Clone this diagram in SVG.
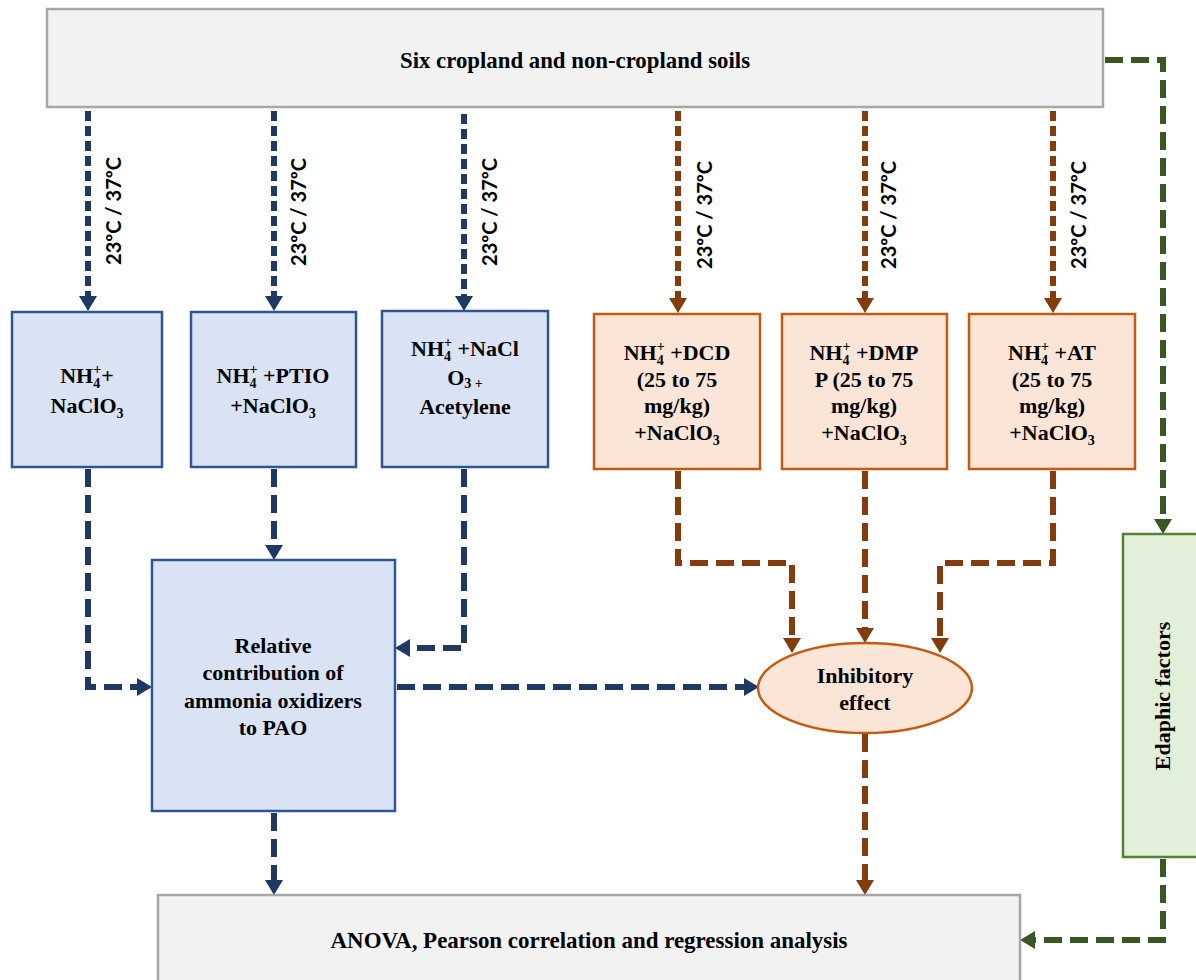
<svg xmlns="http://www.w3.org/2000/svg" width="1196" height="980" viewBox="0 0 1196 980">
<defs>
<style>
.t{font-family:"Liberation Serif","Times New Roman",serif;font-weight:bold;font-size:22px;fill:#000;text-anchor:middle}
.tw{font-size:24px}
.tl{font-family:Lato,"Liberation Sans",sans-serif;font-weight:bold;font-size:20px;fill:#000;text-anchor:middle}
.gray{fill:#f2f2f2;stroke:#a6a6a6;stroke-width:2.5}
.blue{fill:#dae3f3;stroke:#2f5597;stroke-width:2.5}
.brown{fill:#fbe5d6;stroke:#c55a11;stroke-width:2.5}
.green{fill:#e2f0d9;stroke:#548235;stroke-width:2.5}
.cb{fill:none;stroke:#203864;stroke-width:6}
.cr{fill:none;stroke:#843c0c;stroke-width:6}
.cg{fill:none;stroke:#385723;stroke-width:6}
.top{stroke-dasharray:10 5}
.low{stroke-dasharray:18 8}
.s{font-size:14px}
</style>
<marker id="ab" viewBox="0 0 15 18" refX="0" refY="9" markerWidth="15" markerHeight="18" markerUnits="userSpaceOnUse" orient="auto"><path d="M0,0 L15,9 L0,18 Z" fill="#203864"/></marker>
<marker id="ar" viewBox="0 0 15 18" refX="0" refY="9" markerWidth="15" markerHeight="18" markerUnits="userSpaceOnUse" orient="auto"><path d="M0,0 L15,9 L0,18 Z" fill="#843c0c"/></marker>
<marker id="ag" viewBox="0 0 15 18" refX="0" refY="9" markerWidth="15" markerHeight="18" markerUnits="userSpaceOnUse" orient="auto"><path d="M0,0 L15,9 L0,18 Z" fill="#385723"/></marker>
</defs>
<rect width="1196" height="980" fill="#fff"/>

<g id="connectors">
<path class="cb top" d="M88,111 V296" marker-end="url(#ab)"/>
<path class="cb top" d="M274,111 V296" marker-end="url(#ab)"/>
<path class="cb top" d="M464,114 V296" marker-end="url(#ab)"/>
<path class="cr top" d="M678,111 V298" marker-end="url(#ar)"/>
<path class="cr top" d="M865,111 V298" marker-end="url(#ar)"/>
<path class="cr top" d="M1053,111 V298" marker-end="url(#ar)"/>
<path class="cb low" d="M88,469 V687 H137" marker-end="url(#ab)"/>
<path class="cb low" d="M274,469 V545" marker-end="url(#ab)"/>
<path class="cb low" d="M464,469 V648 H410" marker-end="url(#ab)"/>
<path class="cb low" d="M397,687 H744" marker-end="url(#ab)"/>
<path class="cb low" d="M274,813 V880" marker-end="url(#ab)"/>
<path class="cr low" d="M678,471 V563 H792 V638" marker-end="url(#ar)"/>
<path class="cr low" d="M865,471 V628" marker-end="url(#ar)"/>
<path class="cr low" d="M1053,471 V563 H940 V638" marker-end="url(#ar)"/>
<path class="cr low" d="M865,734 V880" marker-end="url(#ar)"/>
<path class="cg low" d="M1105,60 H1163 V519" marker-end="url(#ag)"/>
<path class="cg low" d="M1163,859 V940 H1035" marker-end="url(#ag)"/>
</g>

<g id="soils">
<rect class="gray" x="47" y="9" width="1056" height="98"/>
<text class="t tw" x="575" y="68" textLength="350" lengthAdjust="spacingAndGlyphs">Six cropland and non-cropland soils</text>
</g>

<g id="temp-labels">
<text class="tl" transform="translate(121,211) rotate(-90)">23ºC / 37ºC</text>
<text class="tl" transform="translate(306,212) rotate(-90)">23ºC / 37ºC</text>
<text class="tl" transform="translate(497,212) rotate(-90)">23ºC / 37ºC</text>
<text class="tl" transform="translate(712,215) rotate(-90)">23ºC / 37ºC</text>
<text class="tl" transform="translate(896,215) rotate(-90)">23ºC / 37ºC</text>
<text class="tl" transform="translate(1086,215) rotate(-90)">23ºC / 37ºC</text>
</g>

<g id="box-nh4-naclo3">
<rect class="blue" x="12" y="312" width="150" height="155"/>
<text class="t" x="87" y="383">NH<tspan class="s" dy="5">4</tspan><tspan class="s" dx="-7" dy="-14">+</tspan><tspan dy="9">+</tspan></text>
<text class="t" x="87" y="413">NaClO<tspan class="s" dy="5">3</tspan></text>
</g>

<g id="box-ptio">
<rect class="blue" x="191" y="312" width="165" height="155"/>
<text class="t" x="273" y="383">NH<tspan class="s" dy="5">4</tspan><tspan class="s" dx="-7" dy="-14">+</tspan><tspan dy="9"> +PTIO</tspan></text>
<text class="t" x="273" y="413">+NaClO<tspan class="s" dy="5">3</tspan></text>
</g>

<g id="box-acetylene">
<rect class="blue" x="382" y="311" width="166" height="156"/>
<text class="t" x="465" y="356">NH<tspan class="s" dy="5">4</tspan><tspan class="s" dx="-7" dy="-14">+</tspan><tspan dy="9"> +NaCl</tspan></text>
<text class="t" x="465" y="385">O<tspan class="s" dy="3">3 +</tspan></text>
<text class="t" x="465" y="414">Acetylene</text>
</g>

<g id="box-dcd">
<rect class="brown" x="594" y="314" width="166" height="155"/>
<text class="t" x="677" y="360">NH<tspan class="s" dy="5">4</tspan><tspan class="s" dx="-7" dy="-14">+</tspan><tspan dy="9"> +DCD</tspan></text>
<text class="t" x="677" y="387">(25 to 75</text>
<text class="t" x="677" y="413">mg/kg)</text>
<text class="t" x="677" y="440">+NaClO<tspan class="s" dy="5">3</tspan></text>
</g>

<g id="box-dmpp">
<rect class="brown" x="782" y="314" width="165" height="155"/>
<text class="t" x="864" y="360">NH<tspan class="s" dy="5">4</tspan><tspan class="s" dx="-7" dy="-14">+</tspan><tspan dy="9"> +DMP</tspan></text>
<text class="t" x="864" y="387">P (25 to 75</text>
<text class="t" x="864" y="413">mg/kg)</text>
<text class="t" x="864" y="440">+NaClO<tspan class="s" dy="5">3</tspan></text>
</g>

<g id="box-at">
<rect class="brown" x="969" y="314" width="166" height="155"/>
<text class="t" x="1052" y="360">NH<tspan class="s" dy="5">4</tspan><tspan class="s" dx="-7" dy="-14">+</tspan><tspan dy="9"> +AT</tspan></text>
<text class="t" x="1052" y="387">(25 to 75</text>
<text class="t" x="1052" y="413">mg/kg)</text>
<text class="t" x="1052" y="440">+NaClO<tspan class="s" dy="5">3</tspan></text>
</g>

<g id="relative-contribution">
<rect class="blue" x="152" y="560" width="243" height="251"/>
<text class="t" x="273" y="653">Relative</text>
<text class="t" x="273" y="680">contribution of</text>
<text class="t" x="273" y="708">ammonia oxidizers</text>
<text class="t" x="273" y="735">to PAO</text>
</g>

<g id="inhibitory-effect">
<ellipse class="brown" cx="865" cy="688" rx="107" ry="45"/>
<text class="t" x="865" y="683">Inhibitory</text>
<text class="t" x="865" y="710">effect</text>
</g>

<g id="edaphic-factors">
<rect class="green" x="1123" y="534" width="80" height="323"/>
<text class="t" transform="translate(1170,696) rotate(-90)">Edaphic factors</text>
</g>

<g id="analysis">
<rect class="gray" x="158" y="895" width="862" height="95"/>
<text class="t tw" x="589" y="948" textLength="517" lengthAdjust="spacingAndGlyphs">ANOVA, Pearson correlation and regression analysis</text>
</g>
</svg>
